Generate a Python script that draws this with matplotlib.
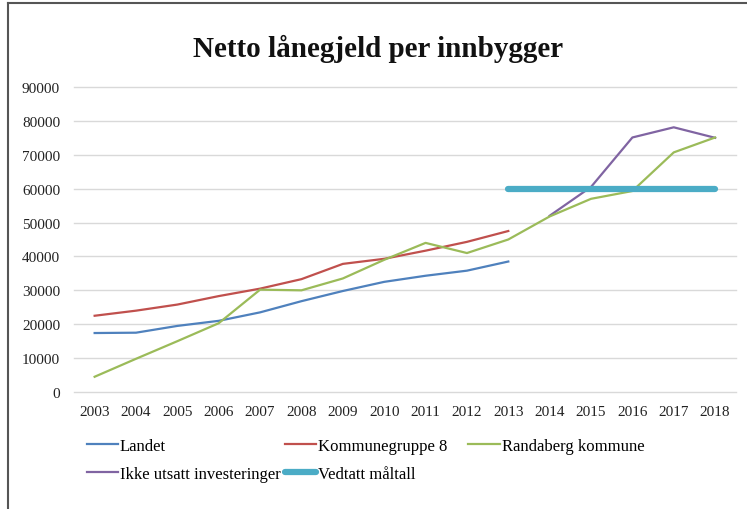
import matplotlib
matplotlib.use("Agg")
import matplotlib.pyplot as plt
from matplotlib.lines import Line2D

plt.rcParams["font.family"] = ["Liberation Serif", "DejaVu Serif"]

years = list(range(2003, 2019))
landet = [17400, 17500, 19500, 21000, 23500, 26800, 29800, 32500, 34300, 35800, 38500]
kommunegruppe = [22500, 24000, 25800, 28300, 30500, 33300, 37800, 39300, 41700, 44300, 47500]
randaberg = [4500, 9800, 15000, 20300, 30200, 30000, 33500, 39000, 44000, 41000, 45000,
             51800, 57000, 59300, 70700, 75100]
ikke_years = [2014, 2015, 2016, 2017, 2018]
ikke_utsatt = [52000, 60500, 75100, 78100, 75000]
maal_years = [2013, 2018]
maaltall = [60000, 60000]

fig = plt.figure(figsize=(7.47, 5.10), dpi=100)
ax = fig.add_axes([0.099, 0.2294, 0.886, 0.5981])

ax.plot(years[:len(landet)], landet, color="#4F81BD", lw=1.6, label="Landet")
ax.plot(years[:len(kommunegruppe)], kommunegruppe, color="#C0504D", lw=1.6, label="Kommunegruppe 8")
ax.plot(years, randaberg, color="#9BBB59", lw=1.6, label="Randaberg kommune")
ax.plot(ikke_years, ikke_utsatt, color="#8064A2", lw=1.6, label="Ikke utsatt investeringer", zorder=1.9)
ax.plot(maal_years, maaltall, color="#4BACC6", lw=4.5, solid_capstyle="round", label="Vedtatt måltall")

ax.set_xlim(2002.5, 2018.5)
ax.set_ylim(0, 90000)
ax.set_yticks(range(0, 90001, 10000))
ax.set_xticks(years)
ax.set_xticklabels([str(y) for y in years])
ax.grid(axis="y", color="#D9D9D9", lw=1)
for gl in ax.get_ygridlines():
    gl.set_clip_on(False)
ax.set_axisbelow(True)
for s in ax.spines.values():
    s.set_visible(False)
ax.tick_params(length=0, labelsize=11, colors="#222222")
ax.tick_params(axis="y", pad=10)
ax.tick_params(axis="x", pad=9)

fig.text(0.506, 0.905, "Netto lånegjeld per innbygger", ha="center", va="center",
         fontsize=21, fontweight="bold", color="#111111")

# legend: one small legend per column, like Excel's grid
h, l = ax.get_legend_handles_labels()
columns = [([0, 3], 0.116), ([1, 4], 0.381), ([2], 0.627)]
for idx, x0 in columns:
    leg = fig.legend([h[i] for i in idx], [l[i] for i in idx], ncol=1, frameon=False,
                     loc="upper left", bbox_to_anchor=(x0, 0.14), fontsize=12,
                     handlelength=1.9, handletextpad=0.1, labelspacing=0.75,
                     borderaxespad=0, borderpad=0)

# outer frame (top and left edges)
fig.add_artist(Line2D([0.011, 1.0], [0.992, 0.992], color="#555555", lw=1.5, transform=fig.transFigure))
fig.add_artist(Line2D([0.011, 0.011], [0.0, 0.992], color="#555555", lw=1.5, transform=fig.transFigure))

fig.savefig("out.png", dpi=100, facecolor="white")
